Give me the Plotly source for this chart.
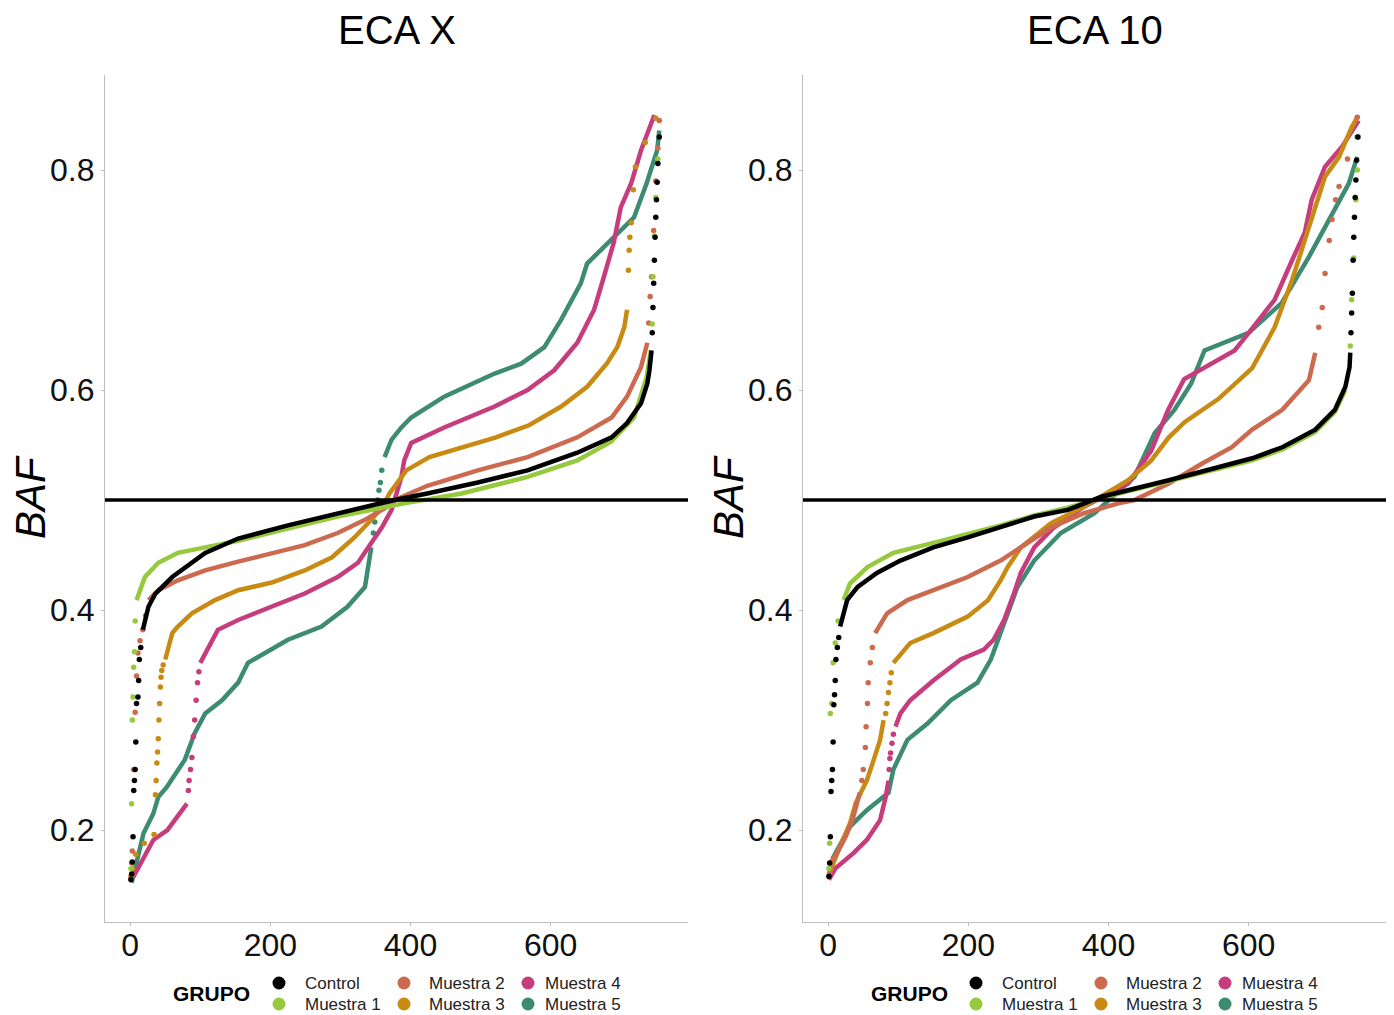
import plotly.graph_objects as go

# ---------------- data ----------------
GROUPS = ["Control", "Muestra 1", "Muestra 2", "Muestra 3", "Muestra 4", "Muestra 5"]
PANEL_TITLES = ["ECA X", "ECA 10"]
X_TICKS = [0, 200, 400, 600]
Y_TICKS = [0.2, 0.4, 0.6, 0.8]
Y_TICK_LABELS = ["0.2", "0.4", "0.6", "0.8"]
REF_LINE = 0.5
Y_LABEL = "BAF"
LEGEND_TITLE = "GRUPO"

# ---- ECA X : dense part of each sorted curve (X, Y) and isolated points (DX, DY)
A_C_X = [18, 26, 36, 60, 107, 154, 225, 296, 359, 377, 424, 496, 567, 638, 687, 709, 729, 738, 741, 744]
A_C_Y = [0.382, 0.403, 0.415, 0.430, 0.452, 0.465, 0.477, 0.488, 0.497, 0.500, 0.506, 0.516, 0.527, 0.543, 0.557, 0.570, 0.588, 0.606, 0.618, 0.636]
A_C_DX = [1, 2, 3, 4, 5, 6, 7, 8, 9, 11, 12, 13, 15, 745, 746, 747, 748, 749, 750, 751, 752, 753, 755]
A_C_DY = [0.155, 0.160, 0.171, 0.194, 0.236, 0.245, 0.255, 0.280, 0.315, 0.321, 0.336, 0.355, 0.366,
          0.652, 0.675, 0.697, 0.718, 0.739, 0.757, 0.773, 0.789, 0.806, 0.830]

A_M1_X = [9, 21, 40, 68, 107, 154, 225, 296, 359, 391, 473, 567, 638, 686, 719, 737, 743]
A_M1_Y = [0.409, 0.430, 0.443, 0.452, 0.457, 0.463, 0.474, 0.485, 0.493, 0.497, 0.506, 0.521, 0.536, 0.553, 0.575, 0.612, 0.636]
A_M1_DX = [1, 2, 3, 4, 5, 6, 7, 745, 746, 748, 750, 753]
A_M1_DY = [0.165, 0.224, 0.300, 0.321, 0.348, 0.362, 0.390, 0.660, 0.703, 0.740, 0.775, 0.810]

A_M2_X = [26, 40, 68, 107, 154, 202, 249, 296, 335, 367, 377, 424, 496, 567, 638, 687, 709, 729, 738]
A_M2_Y = [0.409, 0.418, 0.427, 0.436, 0.444, 0.452, 0.459, 0.470, 0.482, 0.494, 0.500, 0.513, 0.527, 0.539, 0.557, 0.575, 0.594, 0.621, 0.643]
A_M2_DX = [1, 2, 3, 5, 7, 9, 11, 14, 18, 22, 740, 742, 744, 747, 750, 753, 755]
A_M2_DY = [0.155, 0.170, 0.181, 0.255, 0.307, 0.340, 0.361, 0.372, 0.382, 0.395,
           0.661, 0.685, 0.703, 0.745, 0.790, 0.820, 0.845]

A_M3_X = [50, 60, 68, 88, 121, 154, 202, 249, 288, 320, 344, 360, 370, 394, 427, 474, 522, 569, 615, 652, 680, 695, 705, 709]
A_M3_Y = [0.355, 0.379, 0.385, 0.397, 0.409, 0.418, 0.425, 0.436, 0.448, 0.466, 0.482, 0.494, 0.506, 0.527, 0.539, 0.548, 0.557, 0.568, 0.585, 0.603, 0.624, 0.639, 0.657, 0.673]
A_M3_DX = [1, 3, 8, 20, 34, 36, 37, 38, 39, 40, 41, 42, 43, 44, 45, 47, 711, 712, 713, 715, 718, 721, 735, 750]
A_M3_DY = [0.158, 0.165, 0.178, 0.188, 0.196, 0.232, 0.245, 0.261, 0.271, 0.283, 0.300, 0.315, 0.330, 0.339, 0.345, 0.350,
           0.709, 0.727, 0.739, 0.752, 0.782, 0.803, 0.825, 0.847]

A_M4_X = [4, 19, 33, 53, 71, 81, None, 100, 107, 125, 154, 202, 249, 296, 325, 344, 359, 373, 387, 391, 401, 448, 520, 567, 605, 638, 662, 676, 690, 700, 715, 729, 748]
A_M4_Y = [0.157, 0.175, 0.191, 0.200, 0.215, 0.224, None, 0.352, 0.361, 0.382, 0.391, 0.403, 0.415, 0.430, 0.443, 0.461, 0.475, 0.491, 0.521, 0.536, 0.552, 0.566, 0.585, 0.600, 0.618, 0.643, 0.673, 0.703, 0.734, 0.766, 0.788, 0.818, 0.850]
A_M4_DX = [83, 84, 86, 88, 90, 92, 94, 96, 98]
A_M4_DY = [0.236, 0.245, 0.255, 0.266, 0.285, 0.300, 0.318, 0.334, 0.344]

A_M5_X = [2, 10, 19, 33, 40, 52, 78, 92, 107, 131, 154, 168, 192, 225, 273, 310, 335, 339, 344, None, 363, 373, 387, 401, 448, 520, 558, 591, 615, 643, 652, 686, 719, 737, 752, 755]
A_M5_Y = [0.152, 0.175, 0.197, 0.215, 0.230, 0.239, 0.264, 0.288, 0.306, 0.318, 0.334, 0.352, 0.361, 0.373, 0.385, 0.403, 0.421, 0.439, 0.457, None, 0.539, 0.555, 0.566, 0.575, 0.594, 0.615, 0.624, 0.639, 0.664, 0.697, 0.715, 0.736, 0.757, 0.788, 0.818, 0.836]
A_M5_DX = [347, 349, 351, 353, 355, 357, 359]
A_M5_DY = [0.470, 0.480, 0.490, 0.500, 0.509, 0.516, 0.527]

# ---- ECA 10
B_C_X = [17, 27, 42, 70, 103, 150, 199, 246, 294, 342, 380, 390, 486, 605, 648, 695, 723, 738, 744, 745]
B_C_Y = [0.385, 0.409, 0.421, 0.434, 0.445, 0.457, 0.466, 0.475, 0.485, 0.491, 0.500, 0.503, 0.518, 0.538, 0.548, 0.564, 0.582, 0.603, 0.621, 0.634]
B_C_DX = [1, 2, 3, 4, 5, 6, 7, 8, 9, 10, 11, 13, 15, 746, 747, 748, 749, 750, 751, 752, 753, 754, 756]
B_C_DY = [0.158, 0.170, 0.194, 0.235, 0.245, 0.255, 0.280, 0.314, 0.323, 0.336, 0.355, 0.366, 0.375,
          0.652, 0.670, 0.688, 0.718, 0.739, 0.757, 0.775, 0.791, 0.809, 0.830]

B_M1_X = [22, 31, 56, 93, 150, 199, 246, 294, 342, 390, 486, 605, 648, 695, 723, 738]
B_M1_Y = [0.409, 0.424, 0.439, 0.452, 0.461, 0.469, 0.477, 0.486, 0.493, 0.502, 0.517, 0.536, 0.546, 0.562, 0.580, 0.600]
B_M1_DX = [1, 2, 3, 5, 7, 10, 14, 745, 747, 750, 753, 755]
B_M1_DY = [0.165, 0.188, 0.306, 0.315, 0.352, 0.370, 0.390, 0.640, 0.682, 0.720, 0.773, 0.800]

B_M2_X = [1, 5, 15, 25, 35, 45, None, 67, 84, 113, 150, 199, 246, 275, 318, 365, 414, 437, 486, 533, 576, 605, 648, 686, 695]
B_M2_Y = [0.160, 0.172, 0.182, 0.194, 0.210, 0.234, None, 0.379, 0.397, 0.409, 0.418, 0.430, 0.445, 0.457, 0.475, 0.488, 0.497, 0.500, 0.515, 0.533, 0.548, 0.564, 0.582, 0.609, 0.634]
B_M2_DX = [48, 50, 53, 54, 56, 57, 60, 63, 700, 705, 709, 715, 719, 724, 729, 741, 755]
B_M2_DY = [0.245, 0.255, 0.275, 0.294, 0.315, 0.334, 0.352, 0.366,
           0.657, 0.675, 0.706, 0.736, 0.755, 0.773, 0.785, 0.810, 0.848]

B_M3_X = [1, 10, 20, 31, 39, 48, 55, 65, 74, 79, None, 93, 117, 150, 199, 228, 246, 256, 275, 318, 365, 428, 461, 486, 509, 557, 605, 637, 662, 680, 695, 709, 729, 747, 755]
B_M3_Y = [0.160, 0.175, 0.190, 0.206, 0.224, 0.236, 0.245, 0.264, 0.282, 0.300, None, 0.352, 0.370, 0.379, 0.394, 0.409, 0.427, 0.439, 0.457, 0.479, 0.494, 0.518, 0.536, 0.557, 0.571, 0.592, 0.620, 0.657, 0.700, 0.736, 0.766, 0.794, 0.812, 0.839, 0.848]
B_M3_DX = [82, 84, 86, 88, 90]
B_M3_DY = [0.306, 0.315, 0.325, 0.334, 0.343]

B_M4_X = [1, 10, 36, 55, 74, 82, 86, None, 96, 103, 117, 150, 189, 222, 236, 251, 265, 275, 294, 322, 365, 428, 461, 485, 508, 557, 580, 600, 637, 662, 680, 690, 709, 733, 757]
B_M4_Y = [0.155, 0.165, 0.179, 0.191, 0.209, 0.230, 0.245, None, 0.294, 0.306, 0.318, 0.336, 0.355, 0.364, 0.373, 0.391, 0.415, 0.434, 0.457, 0.475, 0.494, 0.515, 0.545, 0.582, 0.610, 0.627, 0.636, 0.652, 0.682, 0.718, 0.743, 0.773, 0.803, 0.821, 0.845]
B_M4_DX = [87, 88, 89, 91, 93]
B_M4_DY = [0.255, 0.265, 0.270, 0.279, 0.287]

B_M5_X = [1, 7, 31, 55, 86, 93, 113, 142, 175, 213, 232, 246, 256, 270, 294, 332, 380, 437, 466, 494, 518, 537, 600, 647, 686, 719, 743, 755]
B_M5_Y = [0.155, 0.175, 0.203, 0.218, 0.234, 0.255, 0.282, 0.297, 0.318, 0.334, 0.355, 0.379, 0.397, 0.421, 0.445, 0.470, 0.488, 0.521, 0.561, 0.582, 0.606, 0.636, 0.652, 0.679, 0.721, 0.761, 0.788, 0.812]
B_M5_DX = [755]
B_M5_DY = [0.830]

# ---------------- style ----------------
COLORS = ["#000000", "#96C93D", "#CC6A50", "#C88A12", "#C73C7D", "#3D8B72"]
FONT = "Liberation Sans"
W, H = 1394, 1015
AXIS_GRAY = "#BDBDBD"


def px(xp):
    return xp / W


def py(yp):
    return 1 - yp / H


panels = [
    [(A_C_X, A_C_Y, A_C_DX, A_C_DY), (A_M1_X, A_M1_Y, A_M1_DX, A_M1_DY), (A_M2_X, A_M2_Y, A_M2_DX, A_M2_DY),
     (A_M3_X, A_M3_Y, A_M3_DX, A_M3_DY), (A_M4_X, A_M4_Y, A_M4_DX, A_M4_DY), (A_M5_X, A_M5_Y, A_M5_DX, A_M5_DY)],
    [(B_C_X, B_C_Y, B_C_DX, B_C_DY), (B_M1_X, B_M1_Y, B_M1_DX, B_M1_DY), (B_M2_X, B_M2_Y, B_M2_DX, B_M2_DY),
     (B_M3_X, B_M3_Y, B_M3_DX, B_M3_DY), (B_M4_X, B_M4_Y, B_M4_DX, B_M4_DY), (B_M5_X, B_M5_Y, B_M5_DX, B_M5_DY)],
]

# panel geometry in screen pixels of the reference
PANEL_PX = [(105, 688), (803, 1386)]
TOP_PX, BOT_PX = 75, 922

fig = go.Figure()
draw_order = [5, 4, 3, 2, 1, 0]
for p, series in enumerate(panels):
    xa = "x" if p == 0 else "x2"
    ya = "y" if p == 0 else "y2"
    for gi in draw_order:
        bx, by, dx, dy = series[gi]
        fig.add_trace(go.Scatter(x=bx, y=by, mode="lines", xaxis=xa, yaxis=ya,
                                 line=dict(color=COLORS[gi], width=4.5), connectgaps=False,
                                 name=GROUPS[gi], showlegend=False, hoverinfo="skip"))
        if dx:
            fig.add_trace(go.Scatter(x=dx, y=dy, mode="markers", xaxis=xa, yaxis=ya,
                                     marker=dict(color=COLORS[gi], size=5.5, line=dict(width=0)),
                                     name=GROUPS[gi], showlegend=False, hoverinfo="skip"))

ydom = [py(BOT_PX), py(TOP_PX)]
axis_common = dict(showgrid=False, zeroline=False, showline=True, linecolor=AXIS_GRAY, linewidth=1.3,
                   ticks="outside", ticklen=3, tickcolor=AXIS_GRAY,
                   tickfont=dict(family=FONT, size=32, color="#111"), automargin=False)
layout = dict(width=W, height=H, margin=dict(l=0, r=0, t=0, b=0),
              paper_bgcolor="white", plot_bgcolor="white", showlegend=False)
for p in range(2):
    sfx = "" if p == 0 else "2"
    x0, x1 = PANEL_PX[p]
    layout["xaxis" + sfx] = dict(domain=[px(x0), px(x1)], range=[-36, 796], tickvals=X_TICKS,
                                 anchor="y" + sfx, ticklabelstandoff=-9, **axis_common)
    layout["yaxis" + sfx] = dict(domain=ydom, range=[0.1164, 0.8864], tickvals=Y_TICKS,
                                 ticktext=Y_TICK_LABELS, anchor="x" + sfx, **axis_common)
fig.update_layout(**layout)

shapes = []
annotations = []
for p in range(2):
    sfx = "" if p == 0 else "2"
    shapes.append(dict(type="line", xref="x%s domain" % sfx, yref="y" + sfx, x0=0, x1=1,
                       y0=REF_LINE, y1=REF_LINE, line=dict(color="black", width=3.5), layer="above"))
    x0, x1 = PANEL_PX[p]
    annotations.append(dict(text=PANEL_TITLES[p], xref="paper", yref="paper", x=px((x0 + x1) / 2),
                            y=py(30), xanchor="center", yanchor="middle", showarrow=False,
                            font=dict(family=FONT, size=40, color="black")))
    annotations.append(dict(text="<i>%s</i>" % Y_LABEL, xref="paper", yref="paper", x=px(x0 - 75),
                            y=py(497), xanchor="center", yanchor="middle", textangle=-90,
                            showarrow=False, font=dict(family=FONT, size=42, color="black")))
    # legend (drawn manually: 2 rows x 3 columns, column-major like the reference)
    off = 0 if p == 0 else 697
    annotations.append(dict(text="<b>%s</b>" % LEGEND_TITLE, xref="paper", yref="paper",
                            x=px(212 + off), y=py(993), xanchor="center", yanchor="middle",
                            showarrow=False, font=dict(family=FONT, size=21, color="black")))
    col_marker = [279, 404, 528]
    col_text = [303, 427, 543]
    row_y = [983, 1004]
    for gi, g in enumerate(GROUPS):
        c, r = gi // 2, gi % 2
        mx, my = col_marker[c] + off, row_y[r]
        shapes.append(dict(type="circle", xref="paper", yref="paper", xsizemode="pixel",
                           ysizemode="pixel", xanchor=px(mx), yanchor=py(my),
                           x0=-6.5, x1=6.5, y0=-6.5, y1=6.5, fillcolor=COLORS[gi],
                           line=dict(width=0)))
        annotations.append(dict(text=g, xref="paper", yref="paper", x=px(col_text[c] + off),
                                y=py(my), xanchor="left", yanchor="middle", showarrow=False,
                                font=dict(family=FONT, size=17, color="#222")))
fig.update_layout(shapes=shapes, annotations=annotations)

# remove the page's default body margin so the figure fills the window exactly
fig.write_html("out.html", config={"displayModeBar": False},
               post_script="document.body.style.margin='0';document.body.style.overflow='hidden';")
